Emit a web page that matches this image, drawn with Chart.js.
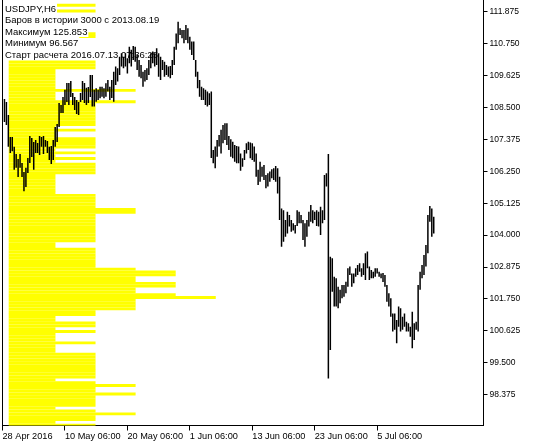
<!DOCTYPE html>
<html><head><meta charset="utf-8">
<style>html,body{margin:0;padding:0;background:#fff;}canvas{display:block;}</style>
<script src="https://cdn.jsdelivr.net/npm/chart.js@4.4.0/dist/chart.umd.min.js"></script>
</head><body>
<canvas id="c" width="535" height="446"></canvas>
<script>
// ---- data ----
const infoLines = ['USDJPY,H6', 'Баров в истории 3000 с 2013.08.19', 'Максимум 125.853', 'Минимум 96.567', 'Старт расчета 2016.07.13 07:36:25'];
const xTickIndex = [-1, 31, 63, 95, 127, 159, 191];
const xTickLabels = ['28 Apr 2016', '10 May 06:00', '20 May 06:00', '1 Jun 06:00', '13 Jun 06:00', '23 Jun 06:00', '5 Jul 06:00'];
const yTickValues = [111.875, 110.750, 109.625, 108.500, 107.375, 106.250, 105.125, 104.000, 102.875, 101.750, 100.625, 99.500, 98.375];
const yTickLabels = ['111.875', '110.750', '109.625', '108.500', '107.375', '106.250', '105.125', '104.000', '102.875', '101.750', '100.625', '99.500', '98.375'];

const highs = [
108.80,108.69,108.23,107.46,107.46,107.11,106.86,106.68,106.86,106.54,
106.22,106.37,106.72,107.49,107.42,107.28,107.35,107.25,107.49,107.46,
107.49,107.35,107.32,107.11,107.14,107.35,107.81,107.92,108.66,108.59,
108.87,109.12,109.36,109.36,109.43,109.01,108.87,108.76,108.69,109.01,
109.43,109.36,109.19,109.22,109.64,109.64,109.12,109.18,109.12,109.23,
109.23,109.18,109.35,109.47,109.23,109.47,109.76,109.94,109.88,110.29,
110.41,110.29,110.41,110.23,110.64,110.53,110.67,110.64,110.35,110.17,
110.00,109.76,109.82,109.88,110.17,110.41,110.47,110.41,110.59,110.41,
110.29,110.17,110.11,110.00,109.94,109.96,110.17,110.64,111.11,111.52,
111.29,111.23,111.23,111.41,111.29,110.99,110.82,110.82,110.17,109.76,
109.47,109.23,109.18,109.12,109.06,109.00,109.06,107.00,107.12,107.35,
107.53,107.71,107.88,107.94,107.94,107.49,107.38,107.29,107.18,107.14,
107.12,106.88,106.71,107.00,107.24,107.29,107.26,107.24,107.12,106.88,
106.30,106.59,106.41,106.47,106.12,106.18,106.24,106.32,106.36,106.44,
106.36,106.06,104.94,104.88,104.53,104.82,104.71,104.53,104.42,104.36,
104.88,104.82,104.71,104.53,104.42,104.53,104.82,105.06,104.88,104.82,
104.88,104.82,105.00,104.88,106.12,106.18,106.86,103.24,103.18,102.53,
102.48,102.18,102.07,102.24,102.24,102.36,102.83,102.89,102.65,102.65,
102.83,102.95,103.01,102.83,103.01,103.36,103.42,102.89,102.77,102.71,
102.83,102.83,102.71,102.65,102.66,102.59,102.24,101.95,101.77,101.24,
101.24,101.01,101.48,101.42,101.12,101.24,100.95,100.89,100.77,101.30,
100.89,100.95,102.24,102.71,102.95,103.30,103.65,104.71,105.03,104.94,
104.65];
const lows = [
107.99,107.88,107.11,106.89,106.96,106.30,106.37,106.05,106.37,106.05,
105.55,105.70,106.19,106.54,106.75,106.30,106.89,106.89,106.82,107.11,
106.86,107.11,106.89,106.65,106.51,106.65,107.11,107.28,107.81,108.30,
108.30,108.59,108.69,108.59,108.87,108.59,108.41,108.27,108.23,108.69,
108.76,108.66,108.59,108.66,108.87,108.53,108.53,108.70,108.76,108.82,
108.88,108.82,108.88,109.06,108.76,108.83,108.70,109.29,109.41,109.64,
109.94,109.88,109.94,109.70,110.06,109.94,110.17,110.11,109.82,109.58,
109.53,109.23,109.41,109.47,109.64,109.88,110.06,109.94,110.00,109.58,
109.47,109.82,109.58,109.64,109.58,109.53,109.64,110.00,110.53,110.76,
111.05,110.94,110.76,110.88,110.76,110.53,110.35,110.17,109.58,109.18,
108.88,108.76,108.76,108.59,108.53,108.59,106.72,106.53,106.36,106.76,
107.12,106.88,107.24,107.35,107.18,107.00,106.76,106.71,106.59,106.53,
106.53,106.27,106.41,106.65,106.88,107.00,106.71,106.65,106.59,106.06,
105.77,105.88,106.06,105.94,105.65,105.71,105.88,106.00,105.94,105.88,
105.47,104.53,103.59,103.77,103.94,104.06,104.30,104.12,104.16,104.06,
104.32,104.42,104.42,103.83,103.59,103.94,104.30,104.47,104.42,104.53,
104.32,104.30,104.00,104.42,104.53,105.71,98.95,99.95,102.00,101.48,
101.48,101.42,101.60,101.77,101.83,101.95,102.18,102.59,102.18,102.30,
102.53,102.59,102.71,102.53,102.59,102.42,102.83,102.42,102.48,102.48,
102.53,102.65,102.53,102.48,102.35,102.18,101.65,101.48,101.12,100.60,
100.66,100.19,100.77,100.60,100.66,100.77,100.60,100.60,100.42,100.01,
100.30,100.66,100.60,102.07,102.48,102.59,102.89,103.36,104.47,103.94,
104.06];

// price-level histogram (levels from 112.2 down, step 0.1)
const profileTop = 112.2;
const profileStep = 0.1;
const profileCounts = [
0,13,0,13,0,13,13,13,0,0,
0,13,13,0,0,0,0,0,13,13,
0,13,13,13,7,7,7,7,7,7,
7,19,7,7,7,19,13,13,13,13,
13,13,13,13,7,13,7,7,13,13,
13,13,7,13,7,13,7,13,13,13,
13,7,7,7,7,7,7,7,13,13,
13,13,13,19,19,13,13,13,13,13,
13,13,13,13,13,7,7,13,13,13,
13,13,13,13,19,25,25,19,19,25,
25,19,19,25,31,19,19,19,19,13,
13,7,7,13,13,7,13,7,7,7,
13,7,7,7,13,13,13,13,13,13,
13,13,13,7,13,19,13,13,19,13,
13,13,13,7,13,19,13,13,7,13];

// ---- chart ----
const FONT = '"Liberation Sans", Arial, sans-serif';
const profileLevels = profileCounts.map((_, k) => +(profileTop - profileStep * k).toFixed(1));
const barData = highs.map((h, i) => ({ x: i, y: [lows[i], h] }));
const profData = profileCounts.map((c, k) => ({ x: c, y: profileLevels[k] }));

const overlay = {
  id: 'overlay',
  beforeDatasetDraw(chart, args) {
    if (args.index !== 0) return;
    const ctx = chart.ctx;
    ctx.save();
    ctx.font = '9.5px ' + FONT;
    ctx.textBaseline = 'alphabetic';
    infoLines.forEach((t, k) => {
      const base = 11.5 + k * 11.5;
      const w = ctx.measureText(t).width;
      ctx.fillStyle = '#fff';
      ctx.fillRect(4, base - 9, w + 2, 11.5);
      ctx.fillStyle = '#000';
      ctx.fillText(t, 5, base);
    });
    ctx.restore();
  },
  afterDraw(chart) {
    const ctx = chart.ctx, a = chart.chartArea;
    ctx.save();
    ctx.strokeStyle = '#000';
    ctx.lineWidth = 1;
    ctx.beginPath();
    ctx.moveTo(a.left, a.top);
    ctx.lineTo(a.left, a.bottom);
    ctx.stroke();
    ctx.restore();
  }
};

new Chart(document.getElementById('c'), {
  data: {
    datasets: [
      { type: 'bar', label: 'USDJPY,H6', data: barData, xAxisID: 'x', yAxisID: 'y',
        backgroundColor: '#000', borderWidth: 0, barThickness: 1.5, inflateAmount: 0, grouped: false, order: 0 },
      { type: 'bar', label: 'profile', indexAxis: 'y', data: profData, xAxisID: 'xp', yAxisID: 'y',
        backgroundColor: '#ffff00', borderWidth: 0, barThickness: 2.9, inflateAmount: 0, grouped: false, order: 1 }
    ]
  },
  options: {
    responsive: false,
    animation: false,
    devicePixelRatio: 1,
    layout: { padding: { left: 2.5, top: 0, right: 0, bottom: 0 } },
    plugins: { legend: { display: false }, tooltip: { enabled: false } },
    scales: {
      x: {
        type: 'linear', position: 'bottom', min: -1, max: 245.5, offset: false,
        grid: { display: true, offset: false, drawOnChartArea: false, drawTicks: true, tickLength: 5, color: '#000' },
        border: { display: true, color: '#000', width: 1 },
        ticks: { color: '#000', font: { family: FONT, size: 9.2 }, padding: 0, align: 'start', maxRotation: 0, autoSkip: false,
                 callback: (v) => { const k = xTickIndex.indexOf(v); return k >= 0 ? xTickLabels[k] : ''; } },
        afterBuildTicks: (s) => { s.ticks = xTickIndex.map(v => ({ value: v })); },
        afterFit: (s) => { s.height = 20.5; s.paddingLeft = 0; s.paddingRight = 0; }
      },
      xp: { type: 'linear', display: false, min: -0.928, max: 71.08, offset: false },
      y: {
        type: 'linear', position: 'right', min: 97.289, max: 112.287, offset: false,
        grid: { display: true, offset: false, drawOnChartArea: false, drawTicks: true, tickLength: 4, color: '#000' },
        border: { display: true, color: '#000', width: 1 },
        ticks: { color: '#000', font: { family: FONT, size: 8.5 }, padding: 2, autoSkip: false,
                 callback: (v) => { const k = yTickValues.findIndex(t => Math.abs(t - v) < 1e-6); return k >= 0 ? yTickLabels[k] : ''; } },
        afterBuildTicks: (s) => { s.ticks = yTickValues.map(v => ({ value: v })); },
        afterFit: (s) => { s.width = 51.5; s.paddingTop = 0; s.paddingBottom = 0; }
      }
    }
  },
  plugins: [overlay]
});
</script>
</body></html>
